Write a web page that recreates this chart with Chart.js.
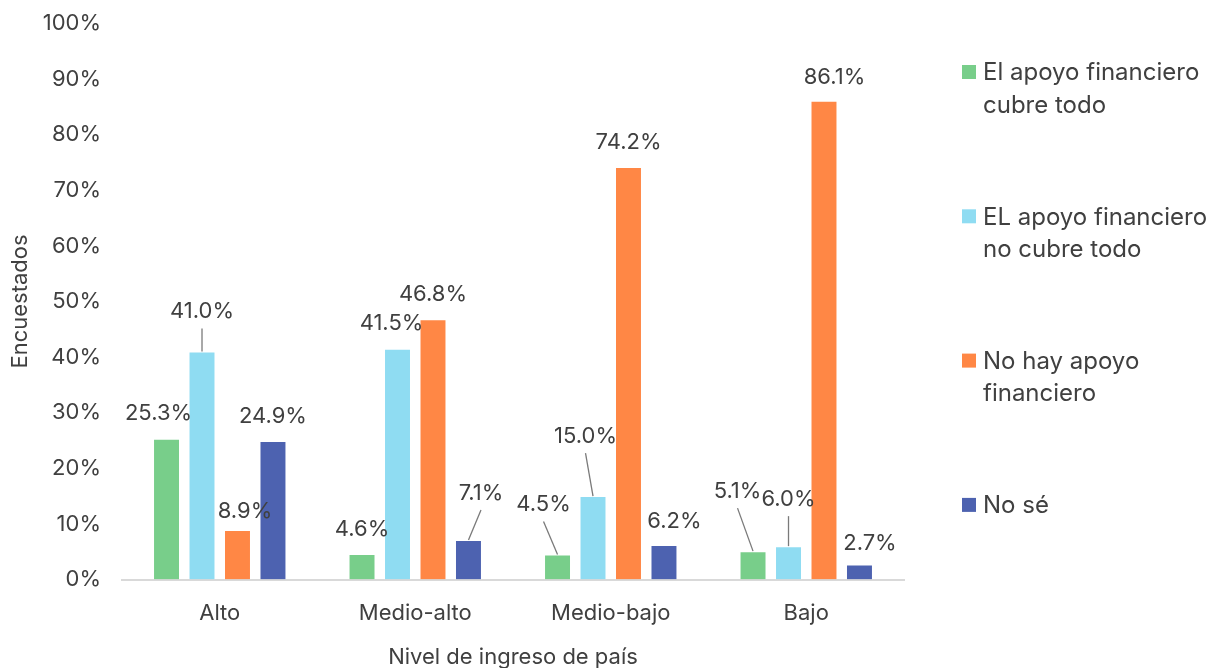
<!DOCTYPE html>
<html><head><meta charset="utf-8">
<script src="https://cdn.jsdelivr.net/npm/chart.js@4.4.1/dist/chart.umd.min.js"></script>
<style>html,body{margin:0;padding:0;background:#fff;overflow:hidden}#wrap{width:1221px;height:668px;position:relative}</style>
</head><body><div id="wrap"><canvas id="c" width="1221" height="668"></canvas></div>
<script>
// ---- data ----
const categories = ['Alto', 'Medio-alto', 'Medio-bajo', 'Bajo'];
const seriesNames = [
  ['El apoyo financiero', 'cubre todo'],
  ['EL apoyo financiero', 'no cubre todo'],
  ['No hay apoyo', 'financiero'],
  ['No sé']
];
const cubreTodo   = [25.3, 4.6, 4.5, 5.1];
const noCubreTodo = [41.0, 41.5, 15.0, 6.0];
const noHayApoyo  = [8.9, 46.8, 74.2, 86.1];
const noSe        = [24.9, 7.1, 6.2, 2.7];
const yAxisTitle = 'Encuestados';
const xAxisTitle = 'Nivel de ingreso de país';

// ---- style ----
const FONT = "Inter, 'DejaVu Sans', sans-serif";
const TXT = '#404040';
const FS = 22;
const colors = ['#78CE8A', '#8FDCF2', '#FF8745', '#4D62B0'];
// data label placement relative to bar top centre: [dx, dy, leaderLine]
const labelOffsets = [
  [[-8, -26, 0], [0, -26, 0], [-14, -51, 1], [-15.5, -61, 1]],
  [[0, -41, 1], [-6, -26, 0], [-7.5, -61, 1], [0, -48, 1]],
  [[7.5, -20, 0], [0, -26, 0], [0, -26, 0], [10.5, -24, 0]],
  [[0, -26, 0], [12.5, -48, 1], [10.5, -25, 0], [10.5, -22.5, 0]]
];
const legendStyle = { x: 962, textX: 983, firstY: 72, step: 144.3, lineH: 32.5, box: 14, size: 24 };

const seriesValues = [cubreTodo, noCubreTodo, noHayApoyo, noSe];

const dataLabels = {
  id: 'dataLabels',
  afterDatasetsDraw(chart) {
    const ctx = chart.ctx;
    ctx.save();
    ctx.font = FS + 'px ' + FONT;
    ctx.fillStyle = TXT;
    ctx.textAlign = 'center';
    ctx.textBaseline = 'middle';
    chart.data.datasets.forEach((ds, di) => {
      chart.getDatasetMeta(di).data.forEach((bar, i) => {
        const [dx, dy, leader] = labelOffsets[di][i];
        const lx = bar.x + dx, ly = bar.y + dy;
        if (leader) {
          ctx.strokeStyle = '#7a7a7a';
          ctx.lineWidth = 1.3;
          ctx.beginPath();
          ctx.moveTo(lx, ly + 18);
          ctx.lineTo(bar.x, bar.y);
          ctx.stroke();
        }
        ctx.fillText(ds.data[i].toFixed(1) + '%', lx, ly + 1);
      });
    });
    ctx.restore();
  }
};

const sideLegend = {
  id: 'sideLegend',
  afterDraw(chart) {
    const ctx = chart.ctx;
    const L = legendStyle;
    ctx.save();
    ctx.font = L.size + 'px ' + FONT;
    ctx.fillStyle = TXT;
    ctx.textAlign = 'left';
    ctx.textBaseline = 'middle';
    seriesNames.forEach((lines, i) => {
      const y = L.firstY + i * L.step;
      ctx.fillStyle = colors[i];
      ctx.fillRect(L.x, y - L.box / 2, L.box, L.box);
      ctx.fillStyle = TXT;
      lines.forEach((t, k) => ctx.fillText(t, L.textX, y + 1 + k * L.lineH));
    });
    ctx.restore();
  }
};

new Chart(document.getElementById('c'), {
  type: 'bar',
  data: {
    labels: categories,
    datasets: seriesValues.map((v, i) => ({
      label: seriesNames[i].join(' '),
      data: v,
      backgroundColor: colors[i],
      borderColor: 'rgba(255,255,255,0.45)',
      borderWidth: 1,
      categoryPercentage: 0.726,
      barPercentage: 0.76
    }))
  },
  options: {
    responsive: false,
    animation: false,
    devicePixelRatio: 1,
    layout: { padding: { left: 7, top: 23.5, right: 317, bottom: 0 } },
    plugins: { legend: { display: false }, tooltip: { enabled: false } },
    scales: {
      x: {
        grid: { display: false, drawTicks: false },
        border: { display: true, color: '#d9d9d9', width: 2 },
        ticks: { color: TXT, font: { family: FONT, size: FS }, padding: 21 },
        title: { display: true, text: xAxisTitle, color: TXT, font: { family: FONT, size: FS }, padding: { top: 0, bottom: -3 } },
        afterFit(s) { s.height = 88.5; s.paddingLeft = 0; s.paddingRight = 0; }
      },
      y: {
        min: 0, max: 100,
        grid: { display: false, drawTicks: false },
        border: { display: false },
        ticks: { stepSize: 10, color: TXT, font: { family: FONT, size: FS }, padding: 21, callback: v => v + '%' },
        title: { display: true, text: yAxisTitle, color: TXT, font: { family: FONT, size: FS }, padding: { top: 0, bottom: 0 } },
        afterFit(s) { s.width = 115; s.paddingTop = 0; s.paddingBottom = 0; }
      }
    }
  },
  plugins: [dataLabels, sideLegend]
});
</script></body></html>
